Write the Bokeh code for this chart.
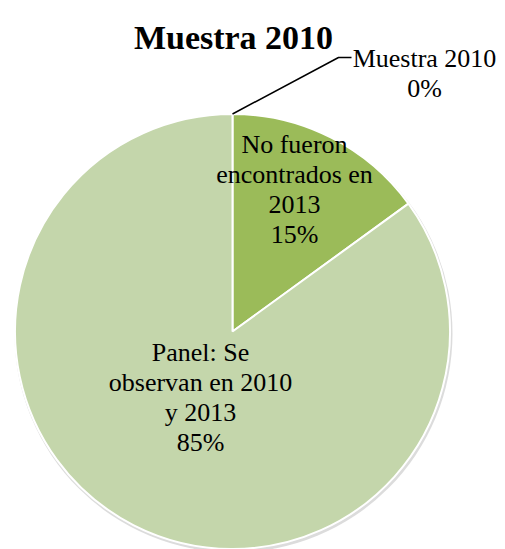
import math
from bokeh.plotting import figure
from bokeh.models import Range1d
from bokeh.core.properties import value
from bokeh.embed import file_html
from bokeh.resources import INLINE

# ---- data ----
categories = ["Muestra 2010", "No fueron encontrados en 2013", "Panel: Se observan en 2010 y 2013"]
values = [0, 15, 85]
label_lines = [["Muestra 2010"], ["No fueron", "encontrados en", "2013"], ["Panel: Se", "observan en 2010", "y 2013"]]
colors = ["#9BBB59", "#9BBB59", "#C4D6AB"]
title_text = "Muestra 2010"

# ---- layout (page pixel frame, y measured upward from bottom) ----
W, H = 505, 549
PAGE_H = H
def py(page_y):
    return PAGE_H - page_y

cx, cy = 232, py(331)
R = 217.5
FONT = "Liberation Serif"
FS = "26px"
LH = 30

p = figure(width=W, height=H, output_backend="svg", toolbar_location=None,
           x_range=Range1d(0, W), y_range=Range1d(0, H),
           min_border=0, outline_line_color=None)
p.axis.visible = False
p.grid.visible = False
p.background_fill_color = "white"
p.border_fill_color = "white"

# subtle shadow under the pie
p.circle(x=[cx + 1], y=[cy - 2], radius=R + 1.5, radius_units="data",
         fill_color="#9a9a9a", fill_alpha=0.35, line_color=None)

total = sum(values)
cum = 0.0
mids = []
for v, c in zip(values, colors):
    a0 = math.pi / 2 - 2 * math.pi * cum / total
    a1 = math.pi / 2 - 2 * math.pi * (cum + v) / total
    mids.append(math.pi / 2 - 2 * math.pi * (cum + v / 2) / total)
    if v > 0:
        p.wedge(x=[cx], y=[cy], radius=R, start_angle=[a0], end_angle=[a1], direction="clock",
                fill_color=c, line_color="white", line_width=2)
    cum += v

# label anchors (first-line baseline)
label_pos = [(424, 58), (294, 144), (200, 352)]

for i, (v, lines) in enumerate(zip(values, label_lines)):
    pct = f"{round(v / total * 100):d}%"
    all_lines = lines + [pct]
    lx, ly = label_pos[i]
    for j, t in enumerate(all_lines):
        p.text(x=[lx], y=[py(ly + j * LH)], text=[t], text_font=value(FONT), text_font_size=FS,
               text_align="center", text_baseline="alphabetic", text_color="black")

# leader line for the zero slice
m = mids[0]
ex, ey = cx + R * math.cos(m), cy + R * math.sin(m)
p.line(x=[ex, 338, 351], y=[ey, py(57), py(57)], line_color="black", line_width=1.5)

# title
p.text(x=[233], y=[py(37)], text=[title_text], text_font=value(FONT), text_font_size="34px",
       text_font_style="bold", text_align="center", text_baseline="alphabetic", text_color="black")

open("out.html", "w").write(file_html(p, INLINE))
